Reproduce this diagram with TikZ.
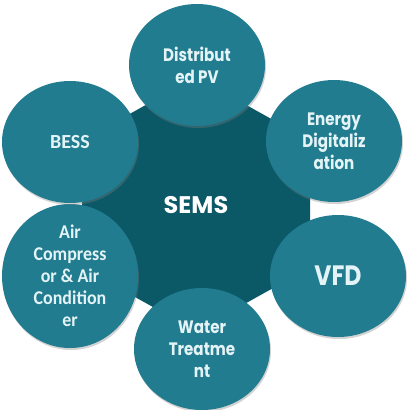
\documentclass[tikz,border=0pt]{standalone}
\usepackage{fontspec}
\setmainfont{Poppins}
\newfontfamily\gfont[FakeStretch=0.84]{Poppins}
\newfontfamily\calib{Carlito}
\newfontfamily\cfont[FakeStretch=0.92]{Carlito}
\usetikzlibrary{shadows,shapes.geometric}
\definecolor{ring}{HTML}{217C90}
\definecolor{core}{HTML}{0B5867}
\definecolor{txt}{HTML}{E4F4F6}
\tikzset{
  bubble/.style={ellipse, fill=ring, minimum width=136pt, minimum height=122pt, inner sep=0pt,
    text=txt, align=center, font=\gfont\bfseries\fontsize{18}{22}\selectfont,
    drop shadow={shadow xshift=1pt, shadow yshift=-2pt, opacity=0.35}},
  hub/.style={text=white, font=\bfseries\fontsize{24}{26}\selectfont}
}
\begin{document}
\begin{tikzpicture}[x=1pt,y=-1pt]
\useasboundingbox (0,0) rectangle (408,410);
\fill[core, rounded corners=6pt] (196,77) -- (310,140.5) -- (310,267.5) -- (196,331) -- (82,267.5) -- (82,140.5) -- cycle;
\node[hub] (sems) at (196,205) {SEMS};
\node[bubble] (pv) at (197,65) {Distribut\\ed PV};
\node[bubble] (energy) at (334,141) {Energy\\Digitaliz\\ation};
\node[bubble, font=\gfont\bfseries\fontsize{28}{30}\selectfont] (vfd) at (338,276) {VFD};
\node[bubble] (water) at (202,349) {Water\\Treatme\\nt};
\node[bubble, font=\cfont\bfseries\fontsize{19.5}{22}\selectfont] (air) at (70,276) {Air\\Compress\\or \& Air\\Condition\\er};
\node[bubble, font=\calib\bfseries\fontsize{20}{22}\selectfont] (bess) at (70,142) {BESS};
\end{tikzpicture}
\end{document}
